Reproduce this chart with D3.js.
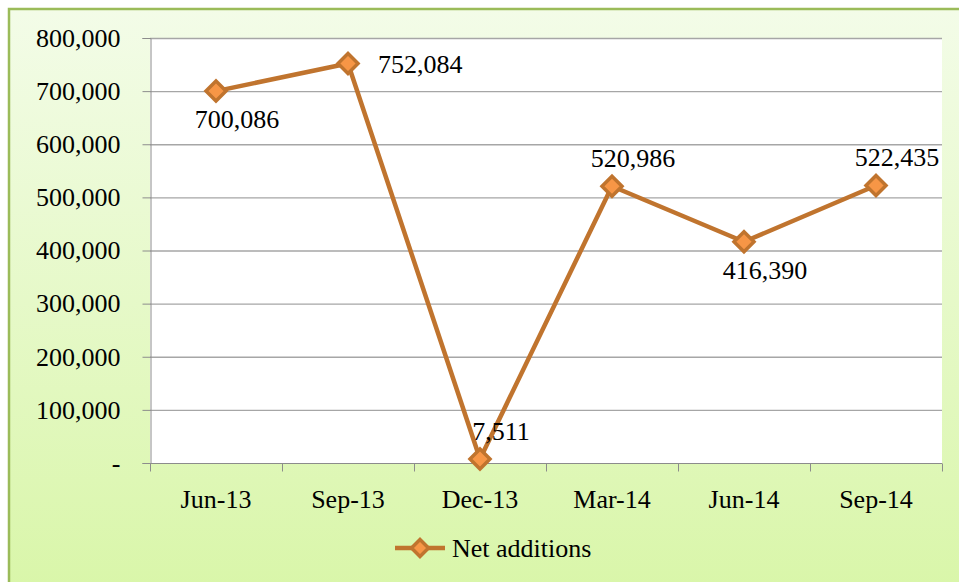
<!DOCTYPE html>
<html>
<head>
<meta charset="utf-8">
<script src="https://cdn.jsdelivr.net/npm/d3@7/dist/d3.min.js"></script>
<style>
  html, body { margin: 0; padding: 0; background: #fff; }
  svg { display: block; }
  text { font-family: "Liberation Serif", "Times New Roman", serif; fill: #000; }
</style>
</head>
<body>
<svg id="chart" width="959" height="582"></svg>
<script>
// quarters on the x axis
const quarters = ['Jun-13', 'Sep-13', 'Dec-13', 'Mar-14', 'Jun-14', 'Sep-14']
// net additions per quarter
const netAdditions = [700086, 752084, 7511, 520986, 416390, 522435]
// where each data label sits relative to its point
const labelSide = ['below', 'right', 'above', 'above', 'below', 'above']
const yTicks = [0, 100000, 200000, 300000, 400000, 500000, 600000, 700000, 800000]
const seriesName = 'Net additions'

const width = 959, height = 582
const margin = { top: 38, right: 17, bottom: 119, left: 150 }

const lineColor = '#c0742e'
const markerFill = '#f79646'
const fontSize = '26px'

var svg = d3.select('#chart')

// background with gradient
var defs = svg.append('defs')
var grad = defs.append('linearGradient')
    .attr('id', 'bg')
    .attr('x1', 0).attr('y1', 0).attr('x2', 0).attr('y2', 1)
grad.append('stop').attr('offset', '0%').attr('stop-color', '#f3fce8')
grad.append('stop').attr('offset', '100%').attr('stop-color', '#d9f6a9')

svg.append('rect')
    .attr('x', 9).attr('y', 9)
    .attr('width', width).attr('height', height)
    .style('fill', 'url(#bg)')
    .style('stroke', '#9bbb59')
    .style('stroke-width', '2.5px')

var x = d3.scaleBand()
    .domain(quarters)
    .range([margin.left, width - margin.right])

var y = d3.scaleLinear()
    .domain([0, 800000])
    .range([height - margin.bottom, margin.top])

// plot area
svg.append('rect')
    .attr('x', margin.left).attr('y', margin.top)
    .attr('width', width - margin.left - margin.right)
    .attr('height', height - margin.top - margin.bottom)
    .style('fill', '#fff')

// gridlines
svg.append('g')
    .selectAll('line')
    .data(yTicks.slice(1))
    .enter().append('line')
    .attr('x1', margin.left).attr('x2', width - margin.right)
    .attr('y1', d => y(d) + 0.5).attr('y2', d => y(d) + 0.5)
    .style('stroke', '#a6a6a6')
    .style('stroke-width', '1.3px')

// y axis
var fmt = d3.format(',')
var yAxis = svg.append('g')
    .attr('transform', `translate(${margin.left + 0.5},0)`)
    .call(d3.axisLeft(y).tickValues(yTicks).tickSize(8).tickPadding(22)
        .tickFormat(d => d === 0 ? '-' : fmt(d)))
yAxis.select('.domain').style('stroke', '#8c8c8c')
yAxis.selectAll('.tick line').style('stroke', '#8c8c8c')
yAxis.selectAll('.tick text')
    .style('font-size', fontSize)
    .style('font-family', '"Liberation Serif", serif')
    .attr('dy', '0.32em')

// x axis, ticks between categories
var xAxisG = svg.append('g')
    .attr('transform', `translate(0,${height - margin.bottom + 0.5})`)
xAxisG.append('line')
    .attr('x1', margin.left).attr('x2', width - margin.right)
    .style('stroke', '#8c8c8c')
xAxisG.selectAll('line.tick')
    .data(quarters.concat(['end']))
    .enter().append('line')
    .attr('class', 'tick')
    .attr('x1', (d, i) => margin.left + i * x.bandwidth() + 0.5)
    .attr('x2', (d, i) => margin.left + i * x.bandwidth() + 0.5)
    .attr('y1', 0).attr('y2', 8)
    .style('stroke', '#8c8c8c')
xAxisG.selectAll('text')
    .data(quarters)
    .enter().append('text')
    .attr('x', d => x(d) + x.bandwidth() / 2)
    .attr('y', 44)
    .attr('text-anchor', 'middle')
    .style('font-size', fontSize)
    .text(d => d)

// series line
var points = quarters.map((q, i) => ({ q: q, v: netAdditions[i], side: labelSide[i] }))
var cx = d => x(d.q) + x.bandwidth() / 2

svg.append('path')
    .datum(points)
    .attr('d', d3.line().x(cx).y(d => y(d.v)))
    .style('fill', 'none')
    .style('stroke', lineColor)
    .style('stroke-width', '4.5px')
    .style('stroke-linejoin', 'round')

function diamond(sel, r) {
    sel.attr('d', `M 0 ${-r} L ${r} 0 L 0 ${r} L ${-r} 0 Z`)
        .style('fill', markerFill)
        .style('stroke', lineColor)
        .style('stroke-width', '3.5px')
}

svg.selectAll('path.marker')
    .data(points)
    .enter().append('path')
    .attr('class', 'marker')
    .attr('transform', d => `translate(${cx(d)},${y(d.v)})`)
    .call(diamond, 10)

// data labels
svg.selectAll('text.label')
    .data(points)
    .enter().append('text')
    .attr('class', 'label')
    .attr('x', d => d.side === 'right' ? cx(d) + 30 : cx(d) + 21)
    .attr('y', d => d.side === 'below' ? y(d.v) + 37 : d.side === 'above' ? y(d.v) - 19 : y(d.v) + 10)
    .attr('text-anchor', d => d.side === 'right' ? 'start' : 'middle')
    .style('font-size', fontSize)
    .text(d => fmt(d.v))

// legend
var legend = svg.append('g').attr('transform', 'translate(395,548)')
legend.append('line')
    .attr('x1', 0).attr('x2', 50)
    .style('stroke', lineColor)
    .style('stroke-width', '4.5px')
legend.append('path')
    .attr('transform', 'translate(25,0)')
    .call(diamond, 8.5)
legend.append('text')
    .attr('x', 57).attr('y', 9)
    .style('font-size', fontSize)
    .text(seriesName)
</script>
</body>
</html>
